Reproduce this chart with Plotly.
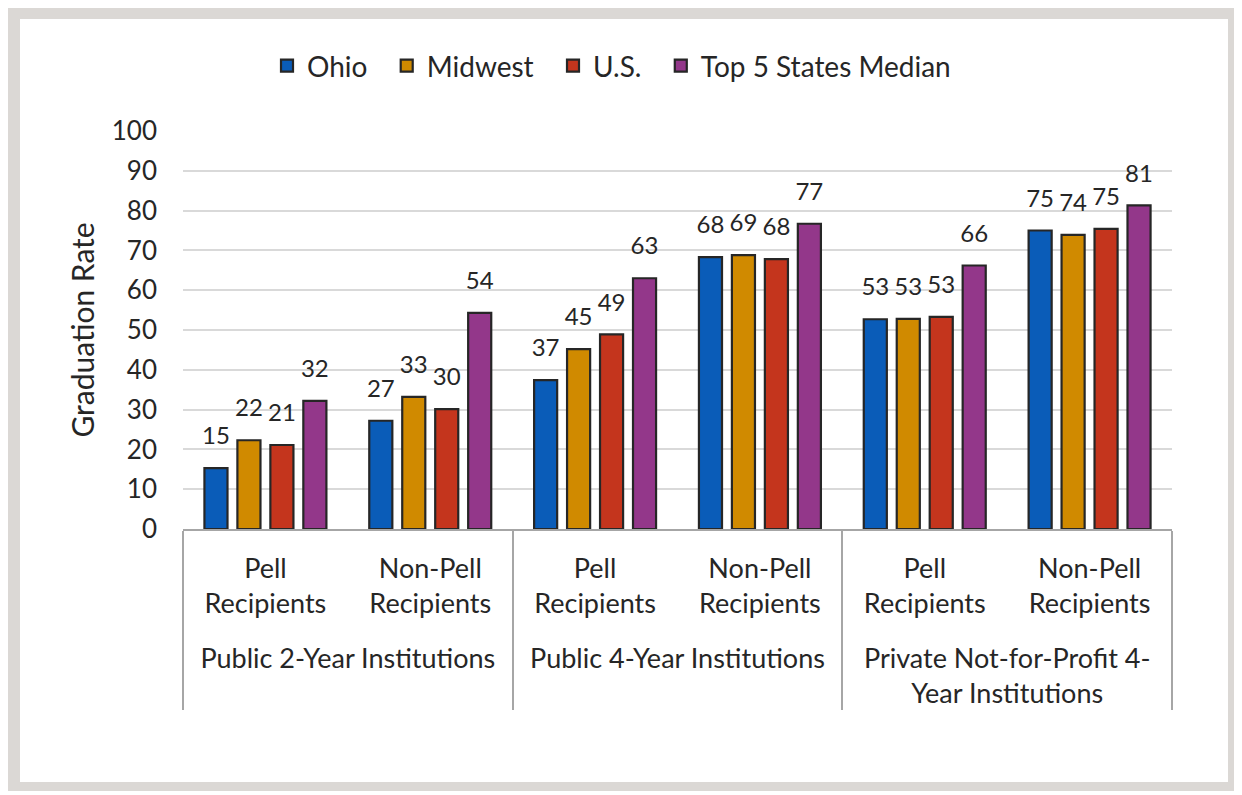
import plotly.graph_objects as go

# categories (outer = institution type, inner = recipient type)
# the leading <br> drops the outer labels one line below the inner ones
institutions = ["<br>Public 2-Year Institutions", "<br>Public 4-Year Institutions",
                "<br>Private Not-for-Profit 4-<br>Year Institutions"]
recipients = ["Pell<br>Recipients", "Non-Pell<br>Recipients"]

outer = [inst for inst in institutions for _ in recipients]
inner = [rec for _ in institutions for rec in recipients]

ohio = [15.3, 27.2, 37.4, 68.3, 52.7, 75.0]
midwest = [22.3, 33.2, 45.2, 68.8, 52.8, 73.9]
us = [21.1, 30.1, 48.9, 67.8, 53.3, 75.4]
top5 = [32.2, 54.3, 63.0, 76.7, 66.2, 81.3]

series = [
    ("Ohio", ohio, "#0A5CB8"),
    ("Midwest", midwest, "#D08A00"),
    ("U.S.", us, "#C4351D"),
    ("Top 5 States Median", top5, "#93378A"),
]

FONT = "Lato"
TXT = "#262626"
PAD = "\u00a0\u00a0"  # extra room between legend entries

fig = go.Figure()
for i, (name, vals, color) in enumerate(series):
    fig.add_trace(go.Bar(
        name=name + PAD, x=[outer, inner], y=vals, offsetgroup=str(i),
        marker=dict(color=color, line=dict(color="#262626", width=2.2)),
    ))
    # value labels floating above the bars (invisible markers give the gap)
    fig.add_trace(go.Scatter(
        x=[outer, inner], y=vals, offsetgroup=str(i), mode="markers+text",
        marker=dict(size=27, color="rgba(0,0,0,0)"),
        texttemplate="%{y:.0f}", textposition="top center",
        textfont=dict(size=24, color=TXT, family=FONT),
        showlegend=False, hoverinfo="skip", cliponaxis=False,
    ))

# the page has an 8px body margin, so work in screen pixels and shift
OFF = 8
W, H = 1242 - OFF, 795 - OFF
L, R, T, B = 183 - OFF, 1172 - OFF, 131 - OFF, 529 - OFF
pw, ph = R - L, B - T


def px(x):
    return (x - OFF - L) / pw


def py(y):
    return (B - (y - OFF)) / ph


# gray frame behind the chart
fig.add_shape(type="rect", xref="paper", yref="paper", layer="below",
              x0=px(5), x1=px(1238), y0=py(791), y1=py(5),
              fillcolor="#DBD8D5", line=dict(width=0))
fig.add_shape(type="rect", xref="paper", yref="paper", layer="below",
              x0=px(20), x1=px(1228), y0=py(782), y1=py(19),
              fillcolor="white", line=dict(width=0))

fig.update_layout(
    width=W, height=H,
    margin=dict(l=L, r=W - R, t=T, b=H - B),
    paper_bgcolor="white", plot_bgcolor="rgba(0,0,0,0)",
    barmode="group", bargap=0.2, bargroupgap=0.3,
    scattermode="group", scattergap=0.2,
    font=dict(family=FONT, size=26, color=TXT),
    legend=dict(orientation="h", x=px(619), xanchor="center", y=py(66), yanchor="middle",
                font=dict(size=28, color=TXT), itemwidth=30, traceorder="normal"),
    showlegend=True,
)
fig.update_yaxes(range=[0, 100], dtick=10, showgrid=True, gridcolor="#D9D9D9", gridwidth=1.5,
                 zeroline=False, showline=False, ticks="", tickfont=dict(size=26, color=TXT),
                 ticklabelstandoff=25,
                 title=dict(text="Graduation Rate", font=dict(size=30, color=TXT), standoff=8))
fig.update_xaxes(showline=True, linecolor="#A6A6A6", linewidth=1.5, showdividers=True,
                 dividercolor="#A6A6A6", dividerwidth=1.5, tickfont=dict(size=27, color=TXT),
                 ticks="", ticklabelstandoff=15)

fig.write_html("out.html")
